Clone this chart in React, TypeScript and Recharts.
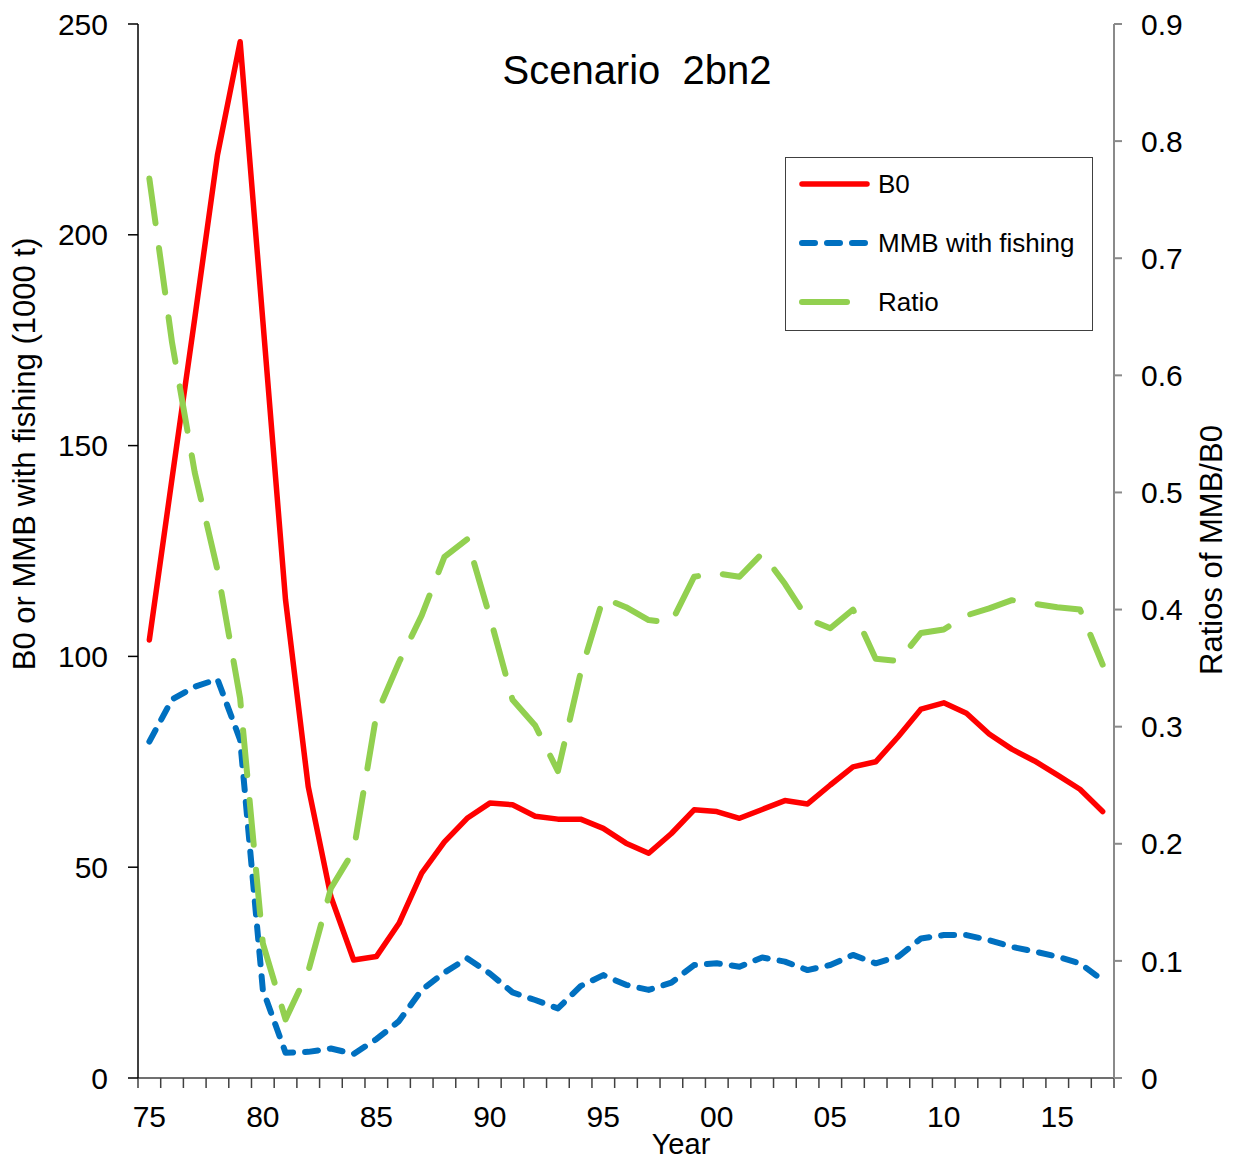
import { LineChart, Line, XAxis, YAxis, Legend } from "recharts";

// Scenario 2bn2 – B0, MMB with fishing (1000 t) and their ratio, 1975–2017
const years = [
  1975, 1976, 1977, 1978, 1979, 1980, 1981, 1982, 1983, 1984, 1985, 1986, 1987,
  1988, 1989, 1990, 1991, 1992, 1993, 1994, 1995, 1996, 1997, 1998, 1999, 2000,
  2001, 2002, 2003, 2004, 2005, 2006, 2007, 2008, 2009, 2010, 2011, 2012, 2013,
  2014, 2015, 2016, 2017,
];
const b0 = [
  103.9, 142.2, 180.2, 218.9, 245.8, 179.6, 113.4, 69.1, 43.0, 28.0, 28.8, 36.7,
  48.6, 56.0, 61.6, 65.2, 64.8, 62.1, 61.4, 61.4, 59.2, 55.7, 53.3, 58.0, 63.6,
  63.2, 61.6, 63.7, 65.8, 65.0, 69.5, 73.8, 75.0, 81.0, 87.5, 89.0, 86.5, 81.6,
  78.0, 75.2, 71.9, 68.5, 63.2,
];
const mmb = [
  79.8, 89.8, 92.8, 94.6, 80.2, 20.9, 6.0, 6.2, 7.0, 5.7, 9.2, 13.5, 20.9, 25.0,
  28.4, 24.8, 20.3, 18.5, 16.5, 21.8, 24.4, 22.1, 20.9, 22.6, 26.8, 27.2, 26.4,
  28.6, 27.6, 25.6, 26.8, 29.2, 27.2, 28.8, 33.1, 33.9, 33.9, 32.7, 31.1, 30.0,
  28.8, 27.2, 23.2,
];
const ratio = [
  0.768, 0.628, 0.517, 0.434, 0.324, 0.115, 0.05, 0.091, 0.162, 0.194, 0.31,
  0.355, 0.395, 0.445, 0.46, 0.394, 0.323, 0.301, 0.262, 0.346, 0.41, 0.402,
  0.391, 0.389, 0.428, 0.431, 0.428, 0.448, 0.422, 0.392, 0.384, 0.4, 0.358,
  0.356, 0.38, 0.383, 0.395, 0.401, 0.408, 0.405, 0.402, 0.4, 0.353,
];

const leftTicks = [0, 50, 100, 150, 200, 250];
const rightTicks = [0, 0.1, 0.2, 0.3, 0.4, 0.5, 0.6, 0.7, 0.8, 0.9];
const yearLabels = [1975, 1980, 1985, 1990, 1995, 2000, 2005, 2010, 2015];
// tick marks sit between the yearly categories, like Excel does
const yearEdges = [...years.map((y) => y - 0.5), 2017.5];

const data = years.map((year, i) => ({
  year,
  b0: b0[i],
  mmb: mmb[i],
  ratio: ratio[i],
}));

const FONT = "'Liberation Sans', Arial, sans-serif";

const seriesStyle: Record<string, { color: string; width: number; dash?: string }> = {
  B0: { color: "#ff0000", width: 5.5 },
  "MMB with fishing": { color: "#0070c0", width: 6, dash: "13 12" },
  Ratio: { color: "#92d050", width: 6, dash: "45 25" },
};

function LegendBox(props: any) {
  const items = props.payload || [];
  return (
    <div
      style={{
        width: 308,
        height: 174,
        boxSizing: "border-box",
        border: "1.5px solid #404040",
        background: "#fff",
      }}
    >
      <svg width={305} height={171} style={{ display: "block" }}>
        {items.map((e: any, i: number) => {
          const s = seriesStyle[e.value] || { color: e.color, width: 5 };
          const cy = 26 + i * 59;
          return (
            <g key={e.value}>
              <line
                x1={16}
                x2={81}
                y1={cy}
                y2={cy}
                stroke={s.color}
                strokeWidth={s.width}
                strokeDasharray={s.dash}
                strokeLinecap="round"
              />
              <text x={92} y={cy + 9} fontSize={26} fill="#000" fontFamily={FONT}>
                {e.value}
              </text>
            </g>
          );
        })}
      </svg>
    </div>
  );
}

export default function App() {
  return (
    <div
      style={{
        position: "absolute",
        left: 0,
        top: 0,
        width: 1233,
        height: 1162,
        background: "#fff",
        fontFamily: FONT,
      }}
    >
      <LineChart
        width={1233}
        height={1162}
        data={data}
        margin={{ top: 24, right: 0, bottom: 0, left: 0 }}
      >
        <XAxis
          xAxisId="grid"
          dataKey="year"
          type="number"
          domain={[1974.5, 2017.5]}
          allowDataOverflow
          ticks={yearEdges}
          interval={0}
          height={10}
          tickSize={10}
          tickFormatter={() => ""}
          axisLine={{ stroke: "#404040", strokeWidth: 1.5 }}
          tickLine={{ stroke: "#404040", strokeWidth: 1.5 }}
        />
        <XAxis
          xAxisId="lab"
          dataKey="year"
          type="number"
          domain={[1974.5, 2017.5]}
          allowDataOverflow
          ticks={yearLabels}
          interval={0}
          height={74}
          tickSize={0}
          tickMargin={18}
          axisLine={false}
          tickLine={false}
          tick={{ fill: "#000", fontSize: 30 }}
          tickFormatter={(v: number) => String(v % 100).padStart(2, "0")}
        />
        <YAxis
          yAxisId="left"
          domain={[0, 250]}
          ticks={leftTicks}
          interval={0}
          width={138}
          tickSize={10}
          tickMargin={20}
          axisLine={{ stroke: "#000", strokeWidth: 1.5 }}
          tickLine={{ stroke: "#000", strokeWidth: 1.5 }}
          tick={{ fill: "#000", fontSize: 30 }}
        />
        <YAxis
          yAxisId="right"
          orientation="right"
          domain={[0, 0.9]}
          ticks={rightTicks}
          interval={0}
          width={119}
          tickSize={8}
          tickMargin={19}
          axisLine={{ stroke: "#8a8a8a", strokeWidth: 2 }}
          tickLine={{ stroke: "#8a8a8a", strokeWidth: 2 }}
          tick={{ fill: "#000", fontSize: 30 }}
          tickFormatter={(v: number) => (v === 0 ? "0" : v.toFixed(1))}
        />
        <Legend
          layout="vertical"
          align="center"
          verticalAlign="middle"
          content={LegendBox}
          wrapperStyle={{ left: 785, top: 157, width: 308, height: 174 }}
        />
        <Line
          xAxisId="grid"
          yAxisId="left"
          type="linear"
          dataKey="b0"
          name="B0"
          stroke="#ff0000"
          strokeWidth={5.5}
          strokeLinejoin="round"
          strokeLinecap="round"
          dot={false}
          isAnimationActive={false}
        />
        <Line
          xAxisId="grid"
          yAxisId="left"
          type="linear"
          dataKey="mmb"
          name="MMB with fishing"
          stroke="#0070c0"
          strokeWidth={6}
          strokeDasharray="13 12"
          strokeLinejoin="round"
          strokeLinecap="round"
          dot={false}
          isAnimationActive={false}
        />
        <Line
          xAxisId="lab"
          yAxisId="right"
          type="linear"
          dataKey="ratio"
          name="Ratio"
          stroke="#92d050"
          strokeWidth={6}
          strokeDasharray="45 25"
          strokeLinejoin="round"
          strokeLinecap="round"
          dot={false}
          isAnimationActive={false}
        />
      </LineChart>
      <svg
        width={1233}
        height={1162}
        style={{ position: "absolute", left: 0, top: 0, pointerEvents: "none" }}
      >
        <text
          x={637}
          y={84}
          textAnchor="middle"
          fontSize={40}
          fill="#000"
          style={{ whiteSpace: "pre" }}
        >
          {"Scenario  2bn2"}
        </text>
        <text x={681} y={1154} textAnchor="middle" fontSize={29} fill="#000">
          Year
        </text>
        <text
          transform="translate(35,454) rotate(-90)"
          textAnchor="middle"
          fontSize={31}
          fill="#000"
        >
          B0 or MMB with fishing (1000 t)
        </text>
        <text
          transform="translate(1222,550) rotate(-90)"
          textAnchor="middle"
          fontSize={31}
          fill="#000"
        >
          Ratios of MMB/B0
        </text>
      </svg>
    </div>
  );
}
